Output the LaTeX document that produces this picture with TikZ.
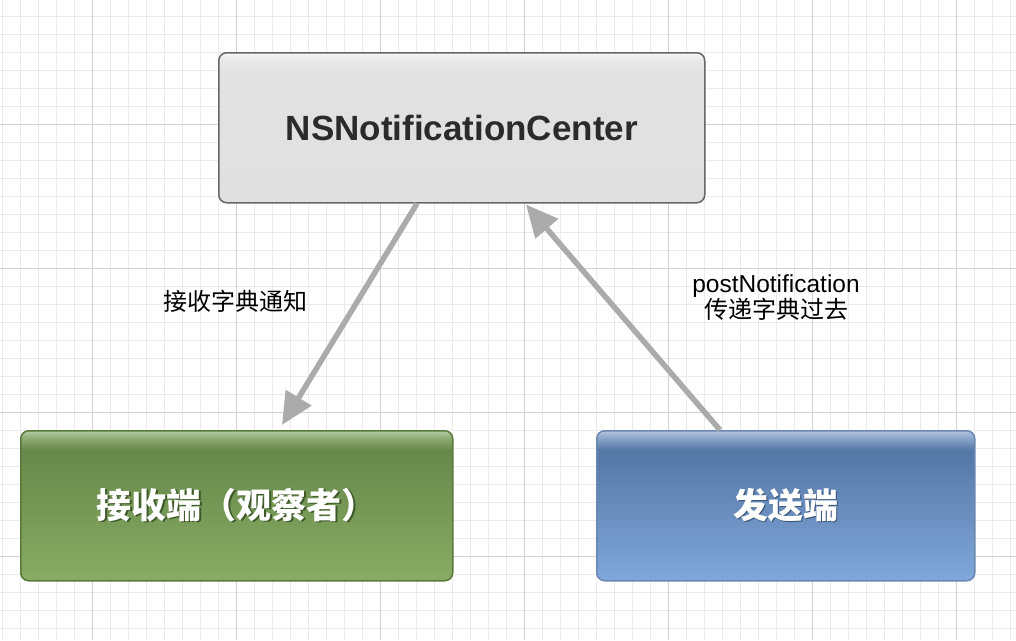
\documentclass[tikz,border=0pt]{standalone}
\usepackage{fontspec}
\setmainfont{Liberation Sans}
\newfontfamily\cjk{Noto Sans CJK SC}
\usetikzlibrary{arrows.meta}
\definecolor{gridminor}{HTML}{EBEBEB}
\definecolor{gridmajor}{HTML}{D2D2D2}
\definecolor{arrowgray}{HTML}{ABABAB}
\definecolor{gT}{HTML}{B4C9A0}\definecolor{gH}{HTML}{8FAB74}\definecolor{gM}{HTML}{66884A}\definecolor{gB}{HTML}{88AC64}
\definecolor{bT}{HTML}{B3C6E2}\definecolor{bH}{HTML}{8AA4C9}\definecolor{bM}{HTML}{5477A5}\definecolor{bB}{HTML}{81A8DB}
\definecolor{kT}{HTML}{F7F7F7}\definecolor{kH}{HTML}{E8E8E8}\definecolor{kM}{HTML}{E2E2E2}\definecolor{kB}{HTML}{E0E0E0}
\definecolor{gborder}{HTML}{5A7A3C}
\definecolor{bborder}{HTML}{6A87B2}
\definecolor{kborder}{HTML}{666666}
\definecolor{gshadow}{HTML}{3E5829}
\definecolor{bshadow}{HTML}{3A5478}
\definecolor{titletext}{HTML}{2B2B2B}
\pgfdeclareverticalshading{greenshade}{100bp}{color(0bp)=(gB); color(25bp)=(gB); color(68.5bp)=(gM); color(72.5bp)=(gH); color(75bp)=(gT); color(100bp)=(gT)}
\pgfdeclareverticalshading{blueshade}{100bp}{color(0bp)=(bB); color(25bp)=(bB); color(68.5bp)=(bM); color(72.5bp)=(bH); color(75bp)=(bT); color(100bp)=(bT)}
\pgfdeclareverticalshading{grayshade}{100bp}{color(0bp)=(kB); color(25bp)=(kB); color(68.5bp)=(kM); color(72.5bp)=(kH); color(75bp)=(kT); color(100bp)=(kT)}
\newcommand{\shtext}[2]{\leavevmode\rlap{\hspace{1.5pt}\raisebox{-1.5pt}{\color{#1}#2}}{\color{white}#2}}
\tikzset{
  minorline/.style={gridminor, line width=0.8pt},
  majorline/.style={gridmajor, line width=0.9pt},
  boxbase/.style={rectangle, rounded corners=8pt, line width=1.5pt, inner sep=0pt, anchor=north west},
  centerbox/.style={boxbase, draw=kborder, shading=grayshade, minimum width=486pt, minimum height=150pt,
    text=titletext, font=\bfseries\fontsize{35}{40}\selectfont},
  recvbox/.style={boxbase, draw=gborder, shading=greenshade, minimum width=432pt, minimum height=150pt,
    font=\cjk\bfseries\fontsize{35}{40}\selectfont},
  sendbox/.style={boxbase, draw=bborder, shading=blueshade, minimum width=378pt, minimum height=150pt,
    font=\cjk\bfseries\fontsize{35}{40}\selectfont},
  flow/.style={arrowgray, line width=5.5pt, -{Triangle[length=32pt,width=29pt]}},
  edgelabel/.style={inner sep=0pt, text=black, align=center, font=\fontsize{24.5}{26}\selectfont}
}
\begin{document}
\begin{tikzpicture}[x=1pt,y=-1pt]
\useasboundingbox (0,0) rectangle (1016,640);
\fill[white] (0,0) rectangle (1016,640);
% grid
\foreach \x in {2,20,...,1016} \draw[minorline] (\x,0) -- (\x,640);
\foreach \y in {16,34,...,640} \draw[minorline] (0,\y) -- (1016,\y);
\foreach \x in {92,236,380,524,668,812,956} \draw[majorline] (\x,0) -- (\x,640);
\foreach \y in {124,268,412,556} \draw[majorline] (0,\y) -- (1016,\y);
% boxes
\node[centerbox] (center) at (218,52) {NSNotificationCenter};
\node[recvbox] (recv) at (20,430) {\shtext{gshadow}{接收端（观察者）}};
\node[sendbox] (send) at (596,430) {\shtext{bshadow}{发送端}};
% arrows
\draw[flow] ([xshift=199pt]center.south west) -- ([xshift=262pt,yshift=5pt]recv.north west);
\draw[flow] ([xshift=124pt]send.north west) -- ([xshift=308pt,yshift=-1pt]center.south west);
% labels
\node[edgelabel, font=\cjk\fontsize{24}{26}\selectfont] (lblrecv) at (235,301) {接收字典通知};
\node[edgelabel] (lblsend) at (776,298) {postNotification\\{\cjk\fontsize{24}{26}\selectfont 传递字典过去}};
\end{tikzpicture}
\end{document}
